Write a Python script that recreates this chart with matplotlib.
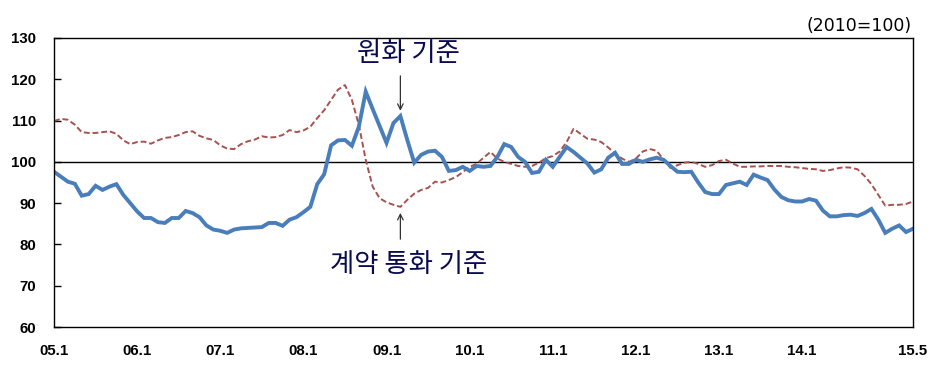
#!/usr/bin/env python3
# -*- coding: utf-8 -*-

"""

script for plotting the monthly export price index, KRW basis vs contract currency basis

"""
import matplotlib
matplotlib.use('Agg')
import matplotlib.pyplot as plt

# monthly index, 2005.1 .. 2015.5 (2010=100)
krw_basis = [
    97.6, 96.4, 95.2, 94.7, 91.8, 92.2, 94.2, 93.2, 94.0, 94.6, 92.0, 90.0,
    88.0, 86.4, 86.4, 85.4, 85.2, 86.4, 86.4, 88.1, 87.6, 86.6, 84.6, 83.6,
    83.3, 82.8, 83.6, 83.9, 84.0, 84.1, 84.2, 85.2, 85.2, 84.5, 86.0, 86.6,
    87.8, 89.1, 94.6, 97.0, 104.0, 105.2, 105.3, 103.9, 108.5, 117.0, 112.8, 108.7,
    104.6, 109.4, 111.1, 105.3, 99.8, 101.7, 102.5, 102.7, 101.2, 97.8, 98.0, 98.8,
    97.8, 99.0, 98.8, 99.0, 101.2, 104.3, 103.6, 101.2, 100.0, 97.3, 97.6, 100.5,
    98.8, 101.2, 103.6, 102.4, 101.0, 99.6, 97.4, 98.2, 101.0, 102.2, 99.5, 99.5,
    100.5, 100.0, 100.6, 101.0, 100.5, 99.0, 97.6, 97.5, 97.6, 95.0, 92.7, 92.2,
    92.2, 94.4, 94.8, 95.2, 94.4, 96.9, 96.2, 95.6, 93.3, 91.5, 90.7, 90.4,
    90.4, 91.0, 90.6, 88.2, 86.8, 86.8, 87.1, 87.2, 86.9, 87.6, 88.6, 86.0,
    82.8, 83.8, 84.6, 83.0, 83.8,
]
contract_basis = [
    109.9, 110.4, 110.2, 109.0, 107.2, 107.0, 107.0, 107.2, 107.4, 106.8, 105.2, 104.3,
    104.8, 104.9, 104.4, 105.2, 105.8, 106.0, 106.5, 107.2, 107.4, 106.3, 105.7, 105.3,
    104.0, 103.2, 103.1, 104.3, 105.0, 105.4, 106.2, 105.9, 106.0, 106.5, 107.7, 107.2,
    107.6, 108.5, 110.6, 112.5, 115.0, 117.5, 118.6, 115.0, 109.0, 100.5, 94.0, 91.2,
    90.2, 89.6, 89.1, 90.8, 92.3, 93.2, 93.7, 95.2, 95.0, 95.6, 96.3, 97.5,
    98.8, 99.5, 101.0, 102.4, 100.8, 100.0, 99.5, 99.0, 98.8, 99.0, 99.8, 100.9,
    101.4, 102.5, 104.8, 108.0, 106.8, 105.6, 105.4, 104.8, 103.5, 102.0, 100.8, 100.0,
    100.8, 102.5, 103.1, 102.7, 100.5, 98.5, 99.2, 99.8, 100.0, 99.5, 98.8, 99.2,
    100.2, 100.5, 99.6, 98.8, 98.8, 98.9, 98.9, 99.0, 99.0, 99.0, 98.8, 98.7,
    98.5, 98.3, 98.2, 97.8, 98.0, 98.4, 98.7, 98.6, 98.2, 96.6, 94.6, 92.0,
    89.4, 89.6, 89.6, 89.8, 90.4,
]
tick_months = [0, 12, 24, 36, 48, 60, 72, 84, 96, 108, 124]
tick_labels = ['05.1', '06.1', '07.1', '08.1', '09.1', '10.1',
               '11.1', '12.1', '13.1', '14.1', '15.5']
y_ticks = [60, 70, 80, 90, 100, 110, 120, 130]

label_krw = '원화 기준'
label_contract = '계약 통화 기준'
base_note = '(2010=100)'


def main():
    kr_font = ['Noto Sans CJK KR', 'DejaVu Sans']
    months = list(range(len(krw_basis)))

    fig = plt.figure(figsize=(9.38, 3.65), dpi=100)
    ax = fig.add_axes([0.0576, 0.1041, 0.9157, 0.7918])

    # two series + base line at 100
    ax.plot(months, contract_basis, color='#a9514e', lw=1.4, ls=(0, (3, 1.5)))
    ax.plot(months, krw_basis, color='#4a7ebb', lw=2.8, solid_joinstyle='miter')
    ax.axhline(100, color='black', lw=1.0, zorder=1)

    ax.set_xlim(0, 124)
    ax.set_ylim(60, 130)
    ax.set_yticks(y_ticks)
    ax.set_xticks(tick_months)
    ax.set_xticklabels(tick_labels)
    for s in ax.spines.values():
        s.set_linewidth(1.0)
    ax.tick_params(axis='y', direction='in', length=5, width=1, pad=13)
    ax.tick_params(axis='x', length=0, pad=12)
    for lab in ax.get_xticklabels() + ax.get_yticklabels():
        lab.set_fontfamily('Liberation Sans')
        lab.set_fontweight('bold')
        lab.set_fontsize(10.8)

    fig.text(0.972, 0.928, base_note, ha='right', va='center',
             fontsize=12.5, family='DejaVu Sans')

    # annotations with arrows
    ax.annotate('', xy=(50, 111.7), xytext=(50, 121.5),
                arrowprops=dict(arrowstyle='->', color='#333333', lw=0.9))
    ax.text(51.2, 126.2, label_krw, ha='center', va='center', fontsize=19,
            fontweight='medium', color='#0a0a50', family=kr_font)
    ax.annotate('', xy=(50, 88.3), xytext=(50, 80.6),
                arrowprops=dict(arrowstyle='->', color='#333333', lw=0.9))
    ax.text(51.2, 75.2, label_contract, ha='center', va='center', fontsize=19,
            fontweight='medium', color='#0a0a50', family=kr_font)

    plt.savefig('out.png', dpi=100)


if __name__ == '__main__':
    main()
